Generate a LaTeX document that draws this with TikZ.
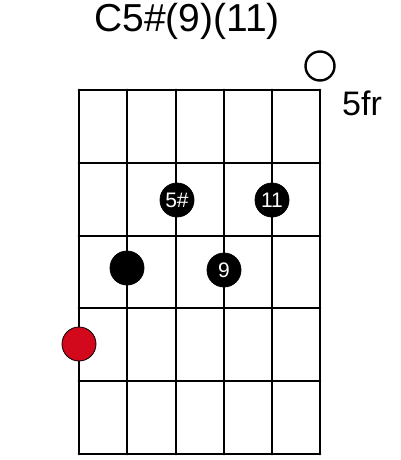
\documentclass[tikz,border=0pt]{standalone}
\usepackage{fontspec}
\setmainfont{Liberation Sans}
\tikzset{
  gridline/.style={line width=2.9pt, line cap=round},
  fingerdot/.style={circle, fill=black, draw=black, line width=0.8pt, minimum size=34pt, inner sep=0pt, text=white, font=\fontsize{21}{22}\selectfont},
  rootdot/.style={circle, fill=rootred, draw=black, line width=0.8pt, minimum size=34pt, inner sep=0pt},
  opendot/.style={circle, draw=black, line width=2.4pt, minimum size=29pt, inner sep=0pt},
}
\definecolor{rootred}{RGB}{210,8,28}
\begin{document}
\begin{tikzpicture}[x=1pt,y=-1pt]
\useasboundingbox (0,0) rectangle (400,460);
% strings
\foreach \x in {79,127,176,224,272,320} {
  \draw[gridline] (\x,90) -- (\x,454);
}
% frets
\foreach \y in {90,163,236,308,381,454} {
  \draw[gridline] (79,\y) -- (320,\y);
}
\node[font=\fontsize{39}{42}\selectfont] (title) at (187,21) {C5\#(9)(11)};
\node[font=\fontsize{34}{36}\selectfont] (fr) at (362,103) {5fr};
\node[opendot] (open) at (320,66) {};
\node[fingerdot] (d5) at (177,200) {5\#};
\node[fingerdot] (d11) at (272,200) {11};
\node[fingerdot] (d1) at (127,268) {};
\node[fingerdot] (d9) at (224,270) {9};
\node[rootdot] (root) at (79,344) {};
\end{tikzpicture}
\end{document}
